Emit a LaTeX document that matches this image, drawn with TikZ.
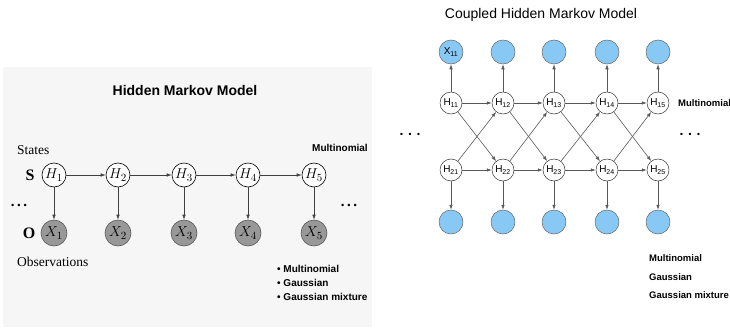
\documentclass[tikz,border=0pt]{standalone}
\usepackage{fontspec}
\setmainfont{Liberation Serif}
\setsansfont{Liberation Sans}
\usetikzlibrary{arrows.meta}
\definecolor{obsblue}{RGB}{135,200,245}
\definecolor{panelbg}{RGB}{246,246,246}
\definecolor{xgray}{RGB}{152,152,152}
\begin{document}
\begin{tikzpicture}[x=1pt,y=-1pt,
  hnode/.style={circle,draw=black,fill=white,minimum size=24pt,inner sep=0pt,line width=0.6pt,font=\fontsize{15}{15}\selectfont},
  xnode/.style={circle,draw=black!65,fill=xgray,minimum size=26pt,inner sep=0pt,line width=0.6pt,font=\fontsize{15}{15}\selectfont},
  chnode/.style={circle,draw=black!80,fill=white,minimum size=22pt,inner sep=0pt,line width=0.5pt,font=\sffamily\fontsize{10}{10}\selectfont},
  bnode/.style={circle,draw=black!60,fill=obsblue,minimum size=24pt,inner sep=0pt,line width=0.5pt,font=\sffamily\fontsize{10}{10}\selectfont},
  arr/.style={-{Latex[length=5pt,width=3.5pt]},draw=black!75,line width=0.6pt},
  carr/.style={-{Latex[length=5pt,width=3.5pt]},draw=black!65,line width=0.6pt},
  boldlab/.style={font=\sffamily\bfseries\fontsize{10}{10}\selectfont,inner sep=0pt},
  cboldlab/.style={font=\sffamily\bfseries\fontsize{9.5}{9.5}\selectfont,inner sep=0pt},
  serlab/.style={font=\fontsize{13.5}{13.5}\selectfont,inner sep=0pt},
  dots/.style={font=\bfseries\fontsize{15}{15}\selectfont,inner sep=0pt}
]
\useasboundingbox (0,0) rectangle (730,329);
% ---------------- left panel: HMM ----------------
\fill[panelbg] (3,67) rectangle (372,327);
\node[font=\sffamily\bfseries\fontsize{14}{14}\selectfont] (t1) at (185,90) {Hidden Markov Model};
\node[serlab,anchor=west] (states) at (17,150) {States};
\node[font=\bfseries\fontsize{16}{16}\selectfont] (S) at (30,175) {S};
\node[font=\bfseries\fontsize{16}{16}\selectfont] (O) at (29,233) {O};
\node[serlab,anchor=west] (obs) at (17,262) {Observations};
\node[dots] (ldots) at (19,205) {.\,.\,.};
\node[dots] (rdots) at (349,205) {.\,.\,.};
\node[boldlab,anchor=west] (mult1) at (312,148) {Multinomial};
\node[boldlab,anchor=west] (b1) at (277,269) {\textbullet\ Multinomial};
\node[boldlab,anchor=west] (b2) at (277,283) {\textbullet\ Gaussian};
\node[boldlab,anchor=west] (b3) at (277,297) {\textbullet\ Gaussian mixture};
\foreach \i/\x in {1/54,2/118,3/184,4/248,5/314}{
  \node[hnode] (h\i) at (\x,175) {$H_{\i}$};
  \node[xnode] (x\i) at (\x,233) {$X_{\i}$};
  \draw[arr] (h\i) -- (x\i);
}
\foreach \i/\j in {1/2,2/3,3/4,4/5}{
  \draw[arr] (h\i) -- (h\j);
}
% ---------------- right panel: CHMM ----------------
\node[font=\sffamily\fontsize{14}{14}\selectfont] (t2) at (541,15) {Coupled Hidden Markov Model};
\foreach \i/\x in {1/451,2/503,3/554,4/607,5/658}{
  \node[chnode] (a\i) at (\x,103) {H\textsubscript{1\i}};
  \node[chnode] (b\i) at (\x,170) {H\textsubscript{2\i}};
  \node[bnode] (ta\i) at (\x,52) {};
  \node[bnode] (tb\i) at (\x,222) {};
  \draw[carr] (a\i) -- (ta\i);
  \draw[carr] (b\i) -- (tb\i);
}
\node[font=\sffamily\fontsize{10}{10}\selectfont] at (ta1) {X\textsubscript{11}};
\foreach \i/\j in {1/2,2/3,3/4,4/5}{
  \draw[carr] (a\i) -- (a\j);
  \draw[carr] (b\i) -- (b\j);
  \draw[carr] (a\i) -- (b\j);
  \draw[carr] (b\i) -- (a\j);
}
\node[cboldlab,anchor=west] (mult2) at (678,103) {Multinomial};
\node[font=\sffamily\bfseries\fontsize{14}{14}\selectfont] (cl) at (410,134) {.\,\,.\,\,.};
\node[font=\sffamily\bfseries\fontsize{14}{14}\selectfont] (cr) at (690,134) {.\,\,.\,\,.};
\node[cboldlab,anchor=west] (c1) at (649,258) {Multinomial};
\node[cboldlab,anchor=west] (c2) at (649,277) {Gaussian};
\node[cboldlab,anchor=west] (c3) at (649,295) {Gaussian mixture};
\end{tikzpicture}
\end{document}
